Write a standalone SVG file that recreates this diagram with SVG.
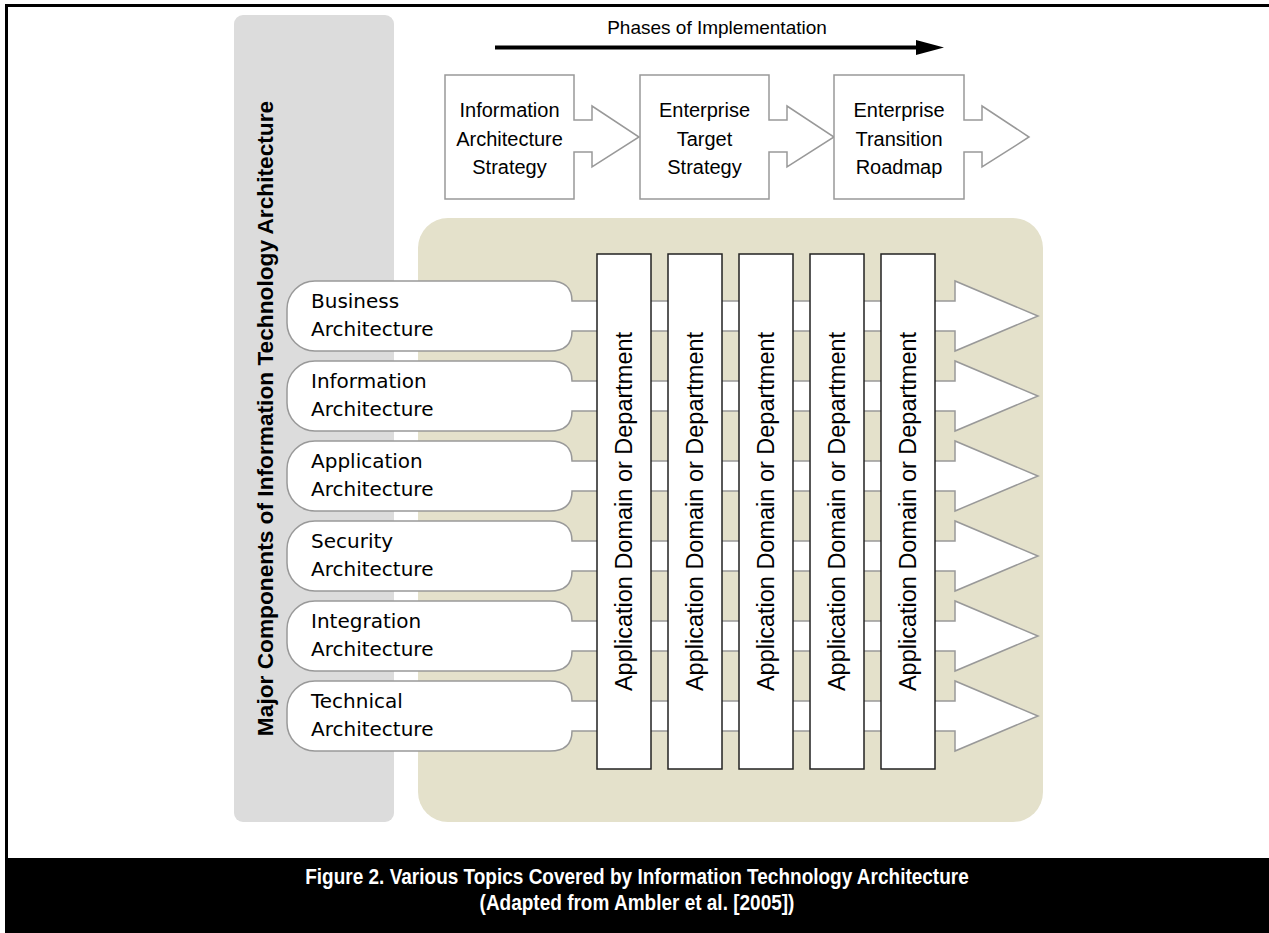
<svg xmlns="http://www.w3.org/2000/svg" width="1269" height="933" viewBox="0 0 1269 933">
<style>
.frame{fill:none;stroke:#000;stroke-width:3}
.phase{fill:#fff;stroke:#999;stroke-width:1.5}
.ptxt{font-family:"Liberation Sans",Arial,sans-serif;font-size:20px;fill:#000;text-anchor:middle}
.htxt{font-family:"Liberation Sans",Arial,sans-serif;font-size:19px;fill:#000;text-anchor:middle}
.row{fill:#fff;stroke:#999;stroke-width:1.5}
.rtxt{font-family:"DejaVu Sans",Tahoma,sans-serif;font-size:20px;fill:#000}
.col{fill:#fff;stroke:#222;stroke-width:1.5}
.ctxt{font-family:"Liberation Sans",Arial,sans-serif;font-size:23.5px;fill:#000;text-anchor:middle}
.cap{font-family:"Liberation Sans",Arial,sans-serif;font-size:19px;font-weight:bold;fill:#fff;text-anchor:middle}
</style>
<rect width="1269" height="933" fill="#fff"/>
<g id="frame">
<path class="frame" d="M6.5,858 V5.5 H1269"/>
<rect x="5" y="858" width="1264" height="75" fill="#000"/>
</g>
<g id="panels">
<rect x="234" y="15" width="160" height="807" rx="9" fill="#dcdcdc"/>
<rect x="418" y="218" width="625" height="604" rx="30" fill="#e4e1cb"/>
</g>
<g id="title">
<text transform="translate(273,418.5) rotate(-90)" font-family="Liberation Sans,Arial,sans-serif" font-size="22.7" font-weight="bold" text-anchor="middle" fill="#000">Major Components of Information Technology Architecture</text>
</g>
<g id="phases-header">
<text x="717" y="34" class="htxt">Phases of Implementation</text>
<line x1="495" y1="47.5" x2="920" y2="47.5" stroke="#000" stroke-width="4"/>
<polygon points="916,40 944,47.5 916,55" fill="#000"/>
</g>
<g id="phase1">
<path class="phase" d="M445,75 H574 V120 H592 V106 L639,137 L592,167 V152 H574 V199 H445 Z"/>
<text class="ptxt"><tspan x="509.5" y="117">Information</tspan><tspan x="509.5" y="146">Architecture</tspan><tspan x="509.5" y="174">Strategy</tspan></text>
</g>
<g id="phase2">
<path class="phase" d="M640,75 H769 V120 H787 V106 L834,137 L787,167 V152 H769 V199 H640 Z"/>
<text class="ptxt"><tspan x="704.5" y="117">Enterprise</tspan><tspan x="704.5" y="146">Target</tspan><tspan x="704.5" y="174">Strategy</tspan></text>
</g>
<g id="phase3">
<path class="phase" d="M834,75 H964 V120 H982 V106 L1029,137 L982,167 V152 H964 V199 H834 Z"/>
<text class="ptxt"><tspan x="899" y="117">Enterprise</tspan><tspan x="899" y="146">Transition</tspan><tspan x="899" y="174">Roadmap</tspan></text>
</g>
<g id="connectors">
<path class="row" d="M315,281 H550 Q572,281 572,301 H955 V281 L1038,316 L955,351 V331 H572 Q572,351 550,351 H315 A28,28 0 0 1 287,323 V309 A28,28 0 0 1 315,281 Z"/>
<path class="row" d="M315,361 H550 Q572,361 572,381 H955 V361 L1038,396 L955,431 V411 H572 Q572,431 550,431 H315 A28,28 0 0 1 287,403 V389 A28,28 0 0 1 315,361 Z"/>
<path class="row" d="M315,441 H550 Q572,441 572,461 H955 V441 L1038,476 L955,511 V491 H572 Q572,511 550,511 H315 A28,28 0 0 1 287,483 V469 A28,28 0 0 1 315,441 Z"/>
<path class="row" d="M315,521 H550 Q572,521 572,541 H955 V521 L1038,556 L955,591 V571 H572 Q572,591 550,591 H315 A28,28 0 0 1 287,563 V549 A28,28 0 0 1 315,521 Z"/>
<path class="row" d="M315,601 H550 Q572,601 572,621 H955 V601 L1038,636 L955,671 V651 H572 Q572,671 550,671 H315 A28,28 0 0 1 287,643 V629 A28,28 0 0 1 315,601 Z"/>
<path class="row" d="M315,681 H550 Q572,681 572,701 H955 V681 L1038,716 L955,751 V731 H572 Q572,751 550,751 H315 A28,28 0 0 1 287,723 V709 A28,28 0 0 1 315,681 Z"/>
</g>
<g id="business"><text class="rtxt"><tspan x="311" y="308">Business</tspan><tspan x="311" y="336">Architecture</tspan></text></g>
<g id="information"><text class="rtxt"><tspan x="311" y="388">Information</tspan><tspan x="311" y="416">Architecture</tspan></text></g>
<g id="application"><text class="rtxt"><tspan x="311" y="468">Application</tspan><tspan x="311" y="496">Architecture</tspan></text></g>
<g id="security"><text class="rtxt"><tspan x="311" y="548">Security</tspan><tspan x="311" y="576">Architecture</tspan></text></g>
<g id="integration"><text class="rtxt"><tspan x="311" y="628">Integration</tspan><tspan x="311" y="656">Architecture</tspan></text></g>
<g id="technical"><text class="rtxt"><tspan x="311" y="708">Technical</tspan><tspan x="311" y="736">Architecture</tspan></text></g>
<g id="col1"><rect class="col" x="597" y="254" width="54" height="515"/><text class="ctxt" transform="translate(632,511.5) rotate(-90)">Application Domain or Department</text></g>
<g id="col2"><rect class="col" x="668" y="254" width="54" height="515"/><text class="ctxt" transform="translate(703,511.5) rotate(-90)">Application Domain or Department</text></g>
<g id="col3"><rect class="col" x="739" y="254" width="54" height="515"/><text class="ctxt" transform="translate(774,511.5) rotate(-90)">Application Domain or Department</text></g>
<g id="col4"><rect class="col" x="810" y="254" width="54" height="515"/><text class="ctxt" transform="translate(845,511.5) rotate(-90)">Application Domain or Department</text></g>
<g id="col5"><rect class="col" x="881" y="254" width="54" height="515"/><text class="ctxt" transform="translate(916,511.5) rotate(-90)">Application Domain or Department</text></g>
<g id="caption">
<text class="cap" transform="translate(637,884) scale(1,1.15)">Figure 2. Various Topics Covered by Information Technology Architecture</text>
<text class="cap" transform="translate(637,910) scale(1,1.15)">(Adapted from Ambler et al. [2005])</text>
</g>
</svg>
